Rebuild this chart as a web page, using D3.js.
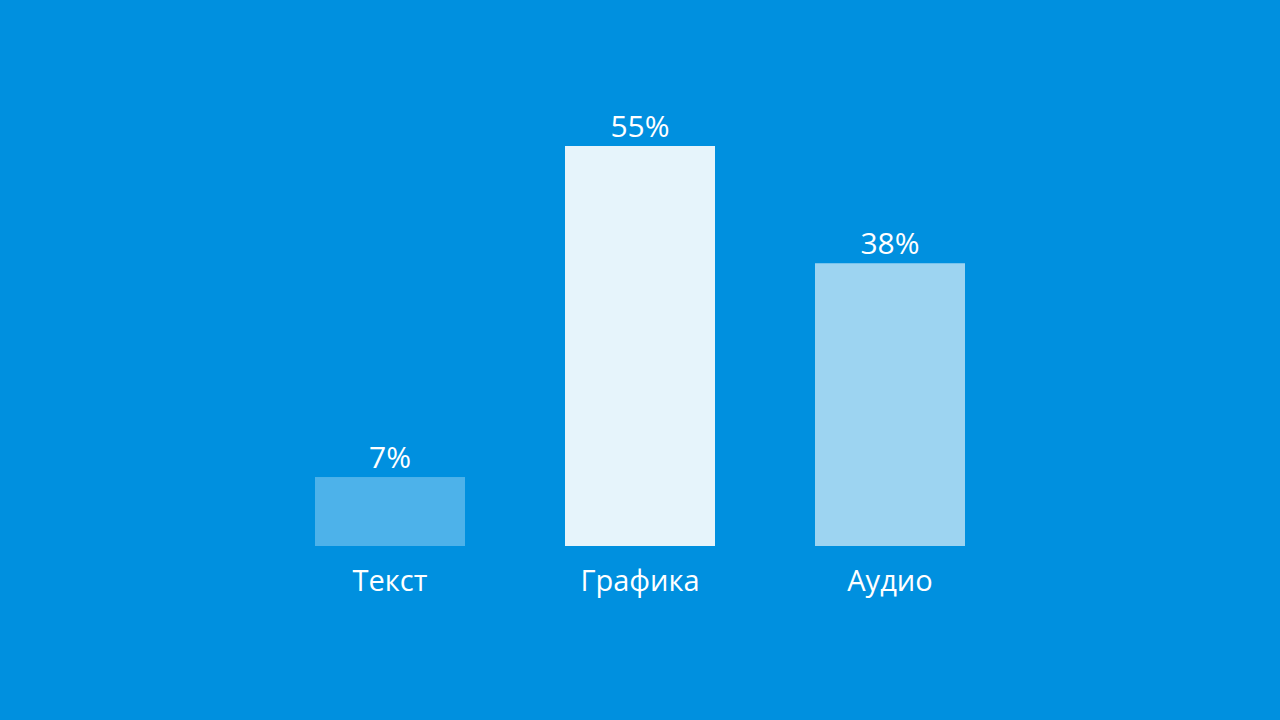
<!DOCTYPE html>
<html><head><meta charset="utf-8">
<script src="https://cdn.jsdelivr.net/npm/d3@7"></script>
<style>html,body{margin:0;padding:0;background:#0090df;overflow:hidden}</style>
</head><body>
<svg id="chart" width="1280" height="720"></svg>
<script>
const categories = ["Текст", "Графика", "Аудио"];
const values = [7, 55, 38];
const valueLabels = ["7%", "55%", "38%"];
const barColors = ["#4db2ea", "#e6f4fb", "#9dd4f1"];

const svg = d3.select("#chart");
svg.append("rect").attr("width",1280).attr("height",720).attr("fill","#0090df");

const x = d3.scaleBand().domain(categories).range([265, 1015]).paddingInner(0.4).paddingOuter(0.2);
const y = d3.scaleLinear().domain([-3.0, 55]).range([546, 146]);

const g = svg.append("g");
g.selectAll("rect.bar").data(categories).join("rect")
  .attr("class","bar")
  .attr("x", d => x(d))
  .attr("width", x.bandwidth())
  .attr("y", (d,i) => y(values[i]))
  .attr("height", (d,i) => y(-3.0) - y(values[i]))
  .attr("fill", (d,i) => barColors[i]);

g.selectAll("text.val").data(categories).join("text")
  .attr("class","val")
  .attr("x", d => x(d) + x.bandwidth()/2)
  .attr("y", (d,i) => y(values[i]) - 9)
  .attr("text-anchor","middle")
  .attr("fill","#ffffff")
  .style("font-family","'Open Sans', sans-serif")
  .style("font-size","30px")
  .text((d,i) => valueLabels[i]);

g.selectAll("text.cat").data(categories).join("text")
  .attr("class","cat")
  .attr("x", d => x(d) + x.bandwidth()/2)
  .attr("y", 591)
  .attr("text-anchor","middle")
  .attr("fill","#ffffff")
  .style("font-family","'Open Sans', sans-serif")
  .style("font-size","29px")
  .text(d => d);
</script>
</body></html>
